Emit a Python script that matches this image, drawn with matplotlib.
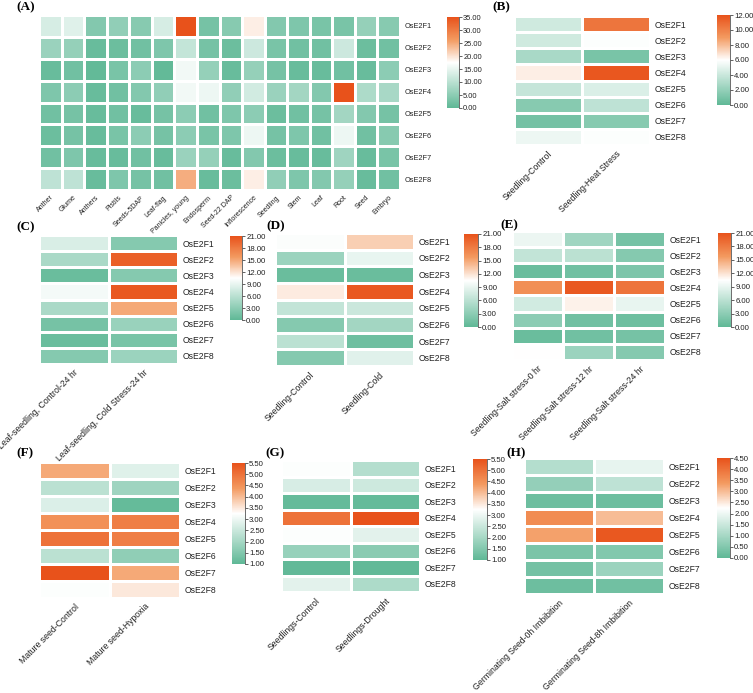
import numpy as np
import matplotlib.pyplot as plt
from matplotlib.colors import LinearSegmentedColormap

plt.rcParams['font.family'] = ['Liberation Sans', 'DejaVu Sans']

W, H = 753, 693

genes = ["OsE2F1", "OsE2F2", "OsE2F3", "OsE2F4",
         "OsE2F5", "OsE2F6", "OsE2F7", "OsE2F8"]

# (A) tissues
tissues_a = ["Anther", "Glume", "Anthers", "Pistils", "Seeds-5DAP", "Leaf-flag",
             "Panicles, young", "Endosperm", "Seed-22 DAP", "Inflorescence",
             "Seedling", "Stem", "Leaf", "Root", "Seed", "Embryo"]
values_a = [
    [13, 14, 4, 5.5, 4.5, 13, 35, 2.5, 4.5, 19, 4, 3.5, 3, 3, 6, 4.5],
    [6.5, 6, 1, 1.5, 2, 3.5, 11, 2.5, 1.5, 12, 3, 2, 2, 12, 1.5, 2],
    [1, 2, 0.5, 3, 5, 0.5, 16, 6, 1, 6, 2.5, 1, 1, 2, 1, 5],
    [3.5, 5, 1, 2, 4, 5.5, 16, 15.5, 5.5, 12.5, 6.5, 7.5, 4, 35, 8.5, 8],
    [2, 2.5, 1, 2, 1, 2.5, 5, 2, 3.5, 5, 1.5, 2, 2.5, 7.5, 4, 2.5],
    [1.5, 2.5, 1, 3, 5, 2.5, 5, 3, 3.5, 15.5, 2.5, 3.5, 2, 15.5, 2, 4.5],
    [2, 3.5, 1, 1, 2, 1, 6.5, 6, 1, 4, 1.5, 1, 1, 7, 1, 3],
    [10.5, 10.5, 1, 3.5, 2.5, 2, 24.5, 1, 1.5, 19, 5.5, 3.5, 4, 6, 1, 2],
]

# (B) heat stress
cond_b = ["Seedling-Control", "Seedling-Heat Stress"]
values_b = [[4.2, 10.5], [4.2, 5.9], [2.8, 1.0], [6.5, 11.8],
            [3.8, 4.6], [1.5, 3.6], [0.8, 1.5], [5.3, 5.9]]

# (C) cold stress, leaf
cond_c = ["Leaf-seedling, Control-24 hr", "Leaf-seedling, Cold Stress-24 hr"]
values_c = [[8, 2.5], [5, 20], [0.8, 2.5], [9.8, 20.5],
            [5, 15], [1.5, 3.8], [0.8, 1.8], [2.5, 4]]

# (D) cold, seedling
cond_d = ["Seedling-Control", "Seedling-Cold"]
values_d = [[10.2, 13], [4, 9], [0.8, 0.8], [11.5, 20.5],
            [6.5, 7], [2.5, 4.5], [6, 1], [2.5, 8.5]]

# (E) salt stress
cond_e = ["Seedling-Salt stress-0 hr", "Seedling-Salt stress-12 hr",
          "Seedling-Salt stress-24 hr"]
values_e = [[9.2, 4.3, 1.5], [6.5, 6, 2.5], [0.8, 1.2, 2], [16.5, 20.5, 18.5],
            [7.5, 11.2, 9], [3, 1.2, 1], [0.8, 1.2, 1.5], [10.5, 4, 2.5]]

# (F) hypoxia
cond_f = ["Mature seed-Control", "Mature seed-Hypoxia"]
values_f = [[4.2, 2.8], [2.3, 1.9], [2.75, 1.1], [4.5, 4.8],
            [5.0, 4.8], [2.3, 1.7], [5.5, 4.2], [3.2, 3.5]]

# (G) drought
cond_g = ["Seedlings-Control", "Seedlings-Drought"]
values_g = [[3.2, 2.2], [2.7, 2.55], [1.1, 1.1], [5.0, 5.5],
            [3.2, 2.85], [1.8, 1.6], [1.05, 1.05], [2.85, 2.1]]

# (H) imbibition
cond_h = ["Germinating Seed-0h Imbibition", "Germinating Seed-8h Imbibition"]
values_h = [[1.2, 1.9], [0.75, 1.35], [0.2, 0.2], [3.6, 3.0],
            [3.3, 4.4], [0.4, 0.5], [0.3, 0.85], [0.2, 0.25]]

# green -> white (middle) -> orange red
cmap = LinearSegmentedColormap.from_list(
    "gwo", [(0, "#5fb896"), (0.5, "#ffffff"), (0.75, "#f39a60"),
            (1, "#e8521b")], N=256)


def box(x0, y0, x1, y1):
    return [x0 / W, 1 - y1 / H, (x1 - x0) / W, (y1 - y0) / H]


def draw_panel(fig, hbox, cbox, values, cols, vmin, vmax, step,
               letter, lxy, row_fs=6.2, col_fs=6.3, tick_fs=5.6):
    data = np.array(values, dtype=float)
    ax = fig.add_axes(box(*hbox))
    mesh = ax.pcolormesh(data, cmap=cmap, vmin=vmin, vmax=vmax,
                         edgecolors="white", linewidth=0.8)
    ax.set_xlim(0, data.shape[1])
    ax.set_ylim(data.shape[0], 0)
    ax.set_xticks(np.arange(data.shape[1]) + 0.5)
    ax.set_xticklabels(cols, rotation=45, ha="right", rotation_mode="anchor",
                       fontsize=col_fs, color="#222222")
    ax.set_yticks(np.arange(data.shape[0]) + 0.5)
    ax.set_yticklabels(genes, fontsize=row_fs, color="#222222")
    ax.yaxis.tick_right()
    ax.tick_params(length=0, pad=3)
    for s in ax.spines.values():
        s.set_visible(False)

    cax = fig.add_axes(box(*cbox))
    ticks = np.arange(vmin, vmax + step / 2, step)
    cb = fig.colorbar(mesh, cax=cax, ticks=ticks, format="%.2f")
    cb.outline.set_visible(False)
    cax.plot([1, 1], [0, 1], transform=cax.transAxes, color="#555555",
             lw=0.6, clip_on=False)
    cax.tick_params(labelsize=tick_fs, length=2, width=0.5, pad=1,
                    colors="#222222")

    fig.text(lxy[0] / W, 1 - lxy[1] / H, letter, family="Liberation Serif",
             fontweight="bold", fontsize=9.5, va="center", ha="left")


fig = plt.figure(figsize=(W / 100, H / 100), dpi=100)

draw_panel(fig, (39, 15, 400, 190), (447, 17, 459, 108), values_a, tissues_a,
           0, 35, 5, "(A)", (16, 7), row_fs=5.3, col_fs=5.0, tick_fs=5.4)
draw_panel(fig, (514, 16, 650, 145), (717, 15, 730, 105), values_b, cond_b,
           0, 12, 2, "(B)", (492, 7))
draw_panel(fig, (39, 235, 178, 364), (230, 236, 242, 320), values_c, cond_c,
           0, 21, 3, "(C)", (16, 227))
draw_panel(fig, (275, 233, 414, 366), (464, 234, 478, 327), values_d, cond_d,
           0, 21, 3, "(D)", (266, 226))
draw_panel(fig, (512, 231, 665, 360), (718, 233, 731, 327), values_e, cond_e,
           0, 21, 3, "(E)", (500, 225))
draw_panel(fig, (39, 462, 180, 598), (232, 463, 245, 564), values_f, cond_f,
           1, 5.5, 0.5, "(F)", (16, 453))
draw_panel(fig, (281, 460, 420, 592), (473, 459, 487, 560), values_g, cond_g,
           1, 5.5, 0.5, "(G)", (265, 453))
draw_panel(fig, (524, 458, 664, 594), (717, 458, 730, 558), values_h, cond_h,
           0, 4.5, 0.5, "(H)", (506, 453))

fig.savefig("out.png", dpi=100)
